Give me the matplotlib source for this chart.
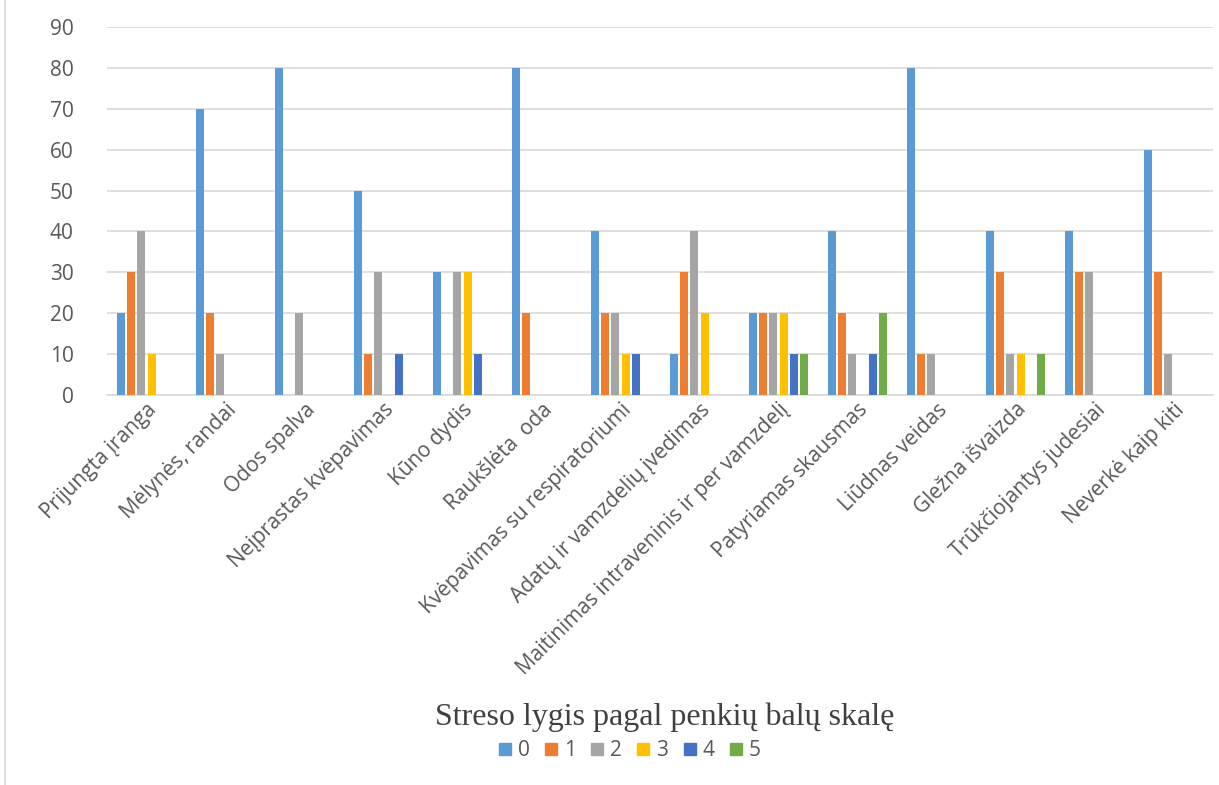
import matplotlib
matplotlib.use("Agg")
import matplotlib.pyplot as plt
from matplotlib.lines import Line2D
import numpy as np

categories = ["Prijungta įranga", "Mėlynės, randai", "Odos spalva", "Neįprastas kvėpavimas",
              "Kūno dydis", "Raukšlėta  oda", "Kvėpavimas su respiratoriumi",
              "Adatų ir vamzdelių įvedimas", "Maitinimas intraveninis ir per vamzdelį",
              "Patyriamas skausmas", "Liūdnas veidas", "Gležna išvaizda",
              "Trūkčiojantys judesiai", "Neverkė kaip kiti"]
series_names = ["0", "1", "2", "3", "4", "5"]
s0 = [20, 70, 80, 50, 30, 80, 40, 10, 20, 40, 80, 40, 40, 60]
s1 = [30, 20, 0, 10, 0, 20, 20, 30, 20, 20, 10, 30, 30, 30]
s2 = [40, 10, 20, 30, 30, 0, 20, 40, 20, 10, 10, 10, 30, 10]
s3 = [10, 0, 0, 0, 30, 0, 10, 20, 20, 0, 0, 10, 0, 0]
s4 = [0, 0, 0, 10, 10, 0, 10, 0, 10, 10, 0, 0, 0, 0]
s5 = [0, 0, 0, 0, 0, 0, 0, 0, 10, 20, 0, 10, 0, 0]
series = [s0, s1, s2, s3, s4, s5]
colors = ["#5B9BD5", "#ED7D31", "#A5A5A5", "#FFC000", "#4472C4", "#70AD47"]
title = "Streso lygis pagal penkių balų skalę"

W, H = 1219, 785
fig = plt.figure(figsize=(W / 100, H / 100), dpi=100)
ax = fig.add_axes([107 / W, 1 - 395 / H, (1213 - 107) / W, (395 - 27) / H])

x = np.arange(len(categories))
pitch = 0.13
bw = 0.098
for i, (vals, c, name) in enumerate(zip(series, colors, series_names)):
    ax.bar(x + (i - 2.5) * pitch, vals, width=bw, color=c, label=name, zorder=3)

ax.set_xlim(-0.5, len(categories) - 0.5)
ax.set_ylim(0, 90)
ax.set_yticks(range(0, 91, 10))
ax.yaxis.grid(True, color="#D9D9D9", linewidth=1.2, zorder=0)
ax.set_axisbelow(True)
for s in ["top", "right", "left"]:
    ax.spines[s].set_visible(False)
ax.spines["bottom"].set_color("#D9D9D9")
ax.spines["bottom"].set_linewidth(1.2)
ax.tick_params(axis="both", length=0, labelsize=15, labelcolor="#595959")
ax.set_xticks(x)
ax.set_xticklabels(categories, rotation=45, ha="right", va="top",
                   rotation_mode="anchor", fontsize=15, color="#595959",
                   family="Open Sans")
for lbl in ax.get_yticklabels():
    lbl.set_family("Open Sans")
ax.tick_params(axis="y", pad=24)
ax.tick_params(axis="x", pad=3)

fig.text(665 / W, 1 - 717 / H, title, ha="center", va="center",
         fontsize=23, family="Liberation Serif", color="#404040")

handles = [Line2D([], [], linestyle="none", marker="s", markersize=8.5,
                  markerfacecolor=c, markeredgecolor=c) for c in colors]
leg = fig.legend(handles=handles, labels=series_names, loc="center",
                 bbox_to_anchor=(630 / W, 1 - 751 / H), ncol=6, frameon=False,
                 handlelength=0.55, handletextpad=0.35,
                 columnspacing=0.75, prop={"family": "Open Sans", "size": 15})
for t in leg.get_texts():
    t.set_color("#595959")

fig.add_artist(Line2D([5 / W, 5 / W], [0, 1], transform=fig.transFigure,
                      color="#D9D9D9", linewidth=1.2))

fig.savefig("out.png", dpi=100, facecolor="white")
